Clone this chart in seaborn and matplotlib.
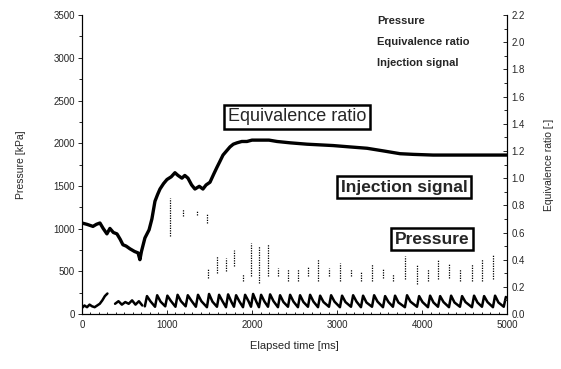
import numpy as np
import pandas as pd
import matplotlib
matplotlib.use("Agg")
import matplotlib.pyplot as plt
from matplotlib.ticker import MultipleLocator
from matplotlib.lines import Line2D
import seaborn as sns

# ---------------- data ----------------
# Equivalence ratio (right axis)
er_t = [0, 60, 130, 170, 212, 250, 294, 329, 370, 412, 450, 482, 520, 565, 620, 660,
        682, 700, 741, 790, 823, 859, 890, 918, 960, 1000, 1050, 1094, 1130, 1176,
        1210, 1247, 1290, 1329, 1380, 1423, 1460, 1506, 1550, 1588, 1620, 1659, 1700,
        1741, 1780, 1823, 1880, 1941, 2000, 2094, 2200, 2294, 2450, 2647, 2800, 2953,
        3150, 3353, 3550, 3741, 3900, 4129, 4350, 4529, 4750, 5000]
er_v = [0.67, 0.66, 0.645, 0.66, 0.67, 0.63, 0.59, 0.63, 0.60, 0.59, 0.55, 0.51, 0.50,
        0.48, 0.46, 0.45, 0.40, 0.46, 0.56, 0.62, 0.70, 0.83, 0.88, 0.92, 0.96, 0.99,
        1.01, 1.04, 1.02, 1.00, 1.02, 1.00, 0.95, 0.92, 0.94, 0.92, 0.95, 0.97, 1.03,
        1.08, 1.12, 1.17, 1.20, 1.23, 1.25, 1.26, 1.27, 1.27, 1.28, 1.28, 1.28, 1.27,
        1.26, 1.25, 1.245, 1.24, 1.23, 1.22, 1.20, 1.18, 1.175, 1.17, 1.17, 1.17, 1.17,
        1.17]

# Pressure (left axis) -- three recorded segments
pres_seg = [1] * 11 + [2] * 9 + [3] * 107
pres_t = [0, 30, 60, 90, 120, 150, 180, 210, 240, 270, 300,
          390, 430, 470, 510, 550, 590, 630, 670, 710,
          740, 765, 805, 860, 885, 925, 980, 1005, 1045, 1100, 1125, 1165,
          1220, 1245, 1285, 1340, 1365, 1405, 1470, 1495, 1535, 1588, 1613, 1653,
          1694, 1719, 1759, 1788, 1813, 1853, 1894, 1919, 1959, 1988, 2013, 2053,
          2082, 2107, 2147, 2188, 2213, 2253, 2305, 2330, 2370, 2423, 2448, 2488,
          2540, 2565, 2605, 2658, 2683, 2723, 2776, 2801, 2841, 2905, 2930, 2970,
          3034, 3059, 3099, 3164, 3189, 3229, 3281, 3306, 3346, 3411, 3436, 3476,
          3540, 3565, 3605, 3657, 3682, 3722, 3798, 3823, 3863, 3940, 3965, 4005,
          4069, 4094, 4134, 4187, 4212, 4252, 4316, 4341, 4381, 4445, 4470, 4510,
          4586, 4611, 4651, 4704, 4729, 4769, 4833, 4858, 4898, 4960, 4985]
pres_v = [70, 100, 80, 110, 90, 80, 100, 120, 160, 210, 240,
          120, 150, 110, 140, 120, 160, 110, 150, 100,
          90, 210, 150, 85, 220, 145, 90, 215, 155, 85, 225, 150,
          90, 220, 160, 85, 225, 150, 80, 235, 145, 85, 225, 150,
          80, 230, 140, 85, 220, 145, 80, 225, 150, 85, 235, 140,
          80, 225, 145, 85, 230, 150, 80, 220, 140, 85, 225, 145,
          80, 220, 140, 85, 225, 145, 80, 215, 140, 85, 220, 145,
          80, 215, 140, 85, 220, 145, 80, 215, 135, 85, 220, 145,
          80, 210, 140, 85, 215, 135, 80, 220, 145, 85, 210, 140,
          80, 215, 135, 85, 210, 140, 80, 215, 135, 85, 210, 140,
          80, 215, 135, 85, 210, 140, 80, 215, 135, 85, 200]

# Injection signal pulses (time, low, high) in left-axis units
inj_t = [1035, 1188, 1353, 1470, 1480, 1588, 1694, 1788, 1894, 1988, 2082, 2188, 2305,
         2423, 2540, 2658, 2776, 2905, 3034, 3164, 3281, 3411, 3540, 3657, 3798, 3940,
         4069, 4187, 4316, 4445, 4586, 4704, 4833]
inj_lo = [918, 1152, 1164, 1070, 424, 482, 506, 564, 388, 446, 364, 446, 446, 388, 388,
          446, 388, 446, 388, 446, 388, 388, 424, 388, 412, 352, 388, 412, 424, 388,
          388, 388, 412]
inj_hi = [1364, 1234, 1212, 1176, 530, 682, 658, 752, 470, 836, 800, 824, 540, 530, 530,
          564, 646, 540, 600, 530, 506, 588, 530, 470, 682, 588, 530, 646, 600, 530,
          588, 646, 706]

x_ticks = [0, 1000, 2000, 3000, 4000, 5000]
left_ticks = [0, 500, 1000, 1500, 2000, 2500, 3000, 3500]
right_ticks = [0.0, 0.2, 0.4, 0.6, 0.8, 1.0, 1.2, 1.4, 1.6, 1.8, 2.0, 2.2]

# ---------------- plot ----------------
sns.set_theme(style="white")
plt.rcParams["font.family"] = ["Liberation Sans", "DejaVu Sans"]

fig = plt.figure(figsize=(5.61, 3.69), dpi=100)
ax = fig.add_axes([0.146, 0.149, 0.758, 0.81])
ax2 = ax.twinx()

pres_df = pd.DataFrame({"t": pres_t, "p": pres_v, "seg": pres_seg})
sns.lineplot(data=pres_df, x="t", y="p", units="seg", estimator=None,
             color="black", lw=1.8, ax=ax, legend=False)
ax.vlines(inj_t, inj_lo, inj_hi, colors="black", linestyles=(0, (1, 1)), lw=0.9)

er_df = pd.DataFrame({"t": er_t, "er": er_v})
sns.lineplot(data=er_df, x="t", y="er", color="black", lw=2.4, ax=ax2, legend=False)

ax.set_xlim(0, 5000)
ax.set_ylim(0, 3500)
ax2.set_ylim(0, 2.2)
ax.set_xticks(x_ticks)
ax.set_yticks(left_ticks)
ax2.set_yticks(right_ticks)
ax2.set_yticklabels([f"{v:.1f}" for v in right_ticks])
ax.xaxis.set_minor_locator(MultipleLocator(100))
ax.yaxis.set_minor_locator(MultipleLocator(250))
ax2.yaxis.set_minor_locator(MultipleLocator(0.1))

for a in (ax, ax2):
    for s in a.spines.values():
        s.set_color("black")
        s.set_linewidth(0.8)
    a.spines["top"].set_visible(False)
ax.tick_params(axis="y", which="both", direction="out", length=3, width=0.7,
               labelsize=7, pad=2, left=True)
ax.tick_params(axis="y", which="minor", length=2)
ax.tick_params(axis="x", which="both", direction="in", length=3, width=0.7,
               labelsize=7, pad=4, bottom=True)
ax.tick_params(axis="x", which="minor", length=1.5)
ax2.tick_params(axis="y", which="both", direction="in", length=3, width=0.7,
                labelsize=7, pad=3, right=True)
ax2.tick_params(axis="y", which="minor", length=2)

ax.set_xlabel("Elapsed time [ms]", fontsize=8, labelpad=8)
ax.set_ylabel("Pressure [kPa]", fontsize=7.5, labelpad=20)
ax2.set_ylabel("Equivalence ratio [-]", fontsize=7.5, labelpad=14, rotation=90)

box = dict(boxstyle="square,pad=0.2", fc="white", ec="black", lw=1.8)
ax.text(2529, 2311, "Equivalence ratio", fontsize=13, ha="center", va="center", bbox=box)
ax.text(3787, 1486, "Injection signal", fontsize=12.5, fontweight="bold",
        ha="center", va="center", bbox=box)
ax.text(4116, 877, "Pressure", fontsize=12.5, fontweight="bold",
        ha="center", va="center", bbox=box)

handles = [Line2D([], [], color="black", lw=1.5),
           Line2D([], [], color="black", lw=2),
           Line2D([], [], color="black", ls=":", lw=1)]
leg = ax.legend(handles, ["Pressure", "Equivalence ratio", "Injection signal"],
                loc="upper left", bbox_to_anchor=(0.67, 1.03), frameon=False,
                handlelength=0, handletextpad=0, labelspacing=1.0,
                prop={"size": 8, "weight": "bold"})

fig.savefig("out.png", dpi=100)
